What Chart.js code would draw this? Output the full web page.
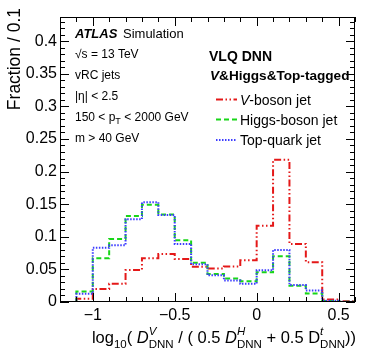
<!DOCTYPE html>
<html>
<head>
<meta charset="utf-8">
<script src="https://cdn.jsdelivr.net/npm/chart.js@4.4.0/dist/chart.umd.min.js"></script>
<style>
  html, body { margin: 0; padding: 0; background: #fff; }
  #c { display: block; }
</style>
</head>
<body>
<canvas id="c" width="374" height="359"></canvas>
<script>
// bin edges of the histogram (log10 ratio), 0.1 wide
const binEdges = [-1.2, -1.1, -1.0, -0.9, -0.8, -0.7, -0.6, -0.5, -0.4, -0.3, -0.2, -0.1, 0.0, 0.1, 0.2, 0.3, 0.4, 0.5, 0.6];
// fraction per bin
const vBosonJet     = [0, 0.005, 0.020, 0.028, 0.049, 0.067, 0.0735, 0.066, 0.054, 0.0515, 0.0545, 0.064, 0.117, 0.218, 0.089, 0.061, 0.004, 0.001];
const higgsBosonJet = [0, 0.016, 0.067, 0.0965, 0.132, 0.149, 0.134, 0.0945, 0.060, 0.043, 0.036, 0.032, 0.0455, 0.070, 0.025, 0.013, 0.0015, 0.0005];
const topQuarkJet   = [0, 0.0125, 0.083, 0.087, 0.127, 0.1528, 0.1334, 0.089, 0.058, 0.041, 0.033, 0.028, 0.0485, 0.0797, 0.026, 0.0178, 0.002, 0.0005];

const xTicks = [-1, -0.5, 0, 0.5];
const xTickLabels = ["\u22121", "\u22120.5", "0", "0.5"];
const yTicks = [0, 0.05, 0.1, 0.15, 0.2, 0.25, 0.3, 0.35, 0.4];
const yTickLabels = ["0", "0.05", "0.1", "0.15", "0.2", "0.25", "0.3", "0.35", "0.4"];
const yMinorStep = 0.01;

const infoLines = ["\u221As = 13 TeV", "vRC jets", "|\u03B7| < 2.5", "PT", "m > 40 GeV"];
const legendNames = ["-boson jet", "Higgs-boson jet", "Top-quark jet"];

const FAM = '"Liberation Sans", Arial, Helvetica, sans-serif';
function fnt(size, weight, style) {
  return `${style || "normal"} ${weight || "normal"} ${size}px ${FAM}`;
}

function toSteps(values) {
  const pts = values.map((v, i) => ({ x: binEdges[i], y: v }));
  pts.push({ x: binEdges[binEdges.length - 1], y: values[values.length - 1] });
  return pts;
}

// draws (or just measures) a row of text pieces; a piece may be a stacked sup/sub pair
function rich(ctx, parts, x, y, draw) {
  parts.forEach((p) => {
    if (p.t !== undefined) {
      ctx.font = p.f;
      if (draw) ctx.fillText(p.t, x, y + (p.dy || 0));
      x += ctx.measureText(p.t).width;
    } else {
      ctx.font = p.supF;
      const w1 = ctx.measureText(p.sup).width;
      if (draw) ctx.fillText(p.sup, x, y + p.supDy);
      ctx.font = p.subF;
      const w2 = ctx.measureText(p.sub).width;
      if (draw) ctx.fillText(p.sub, x, y + p.subDy);
      x += Math.max(w1, w2);
    }
  });
  return x;
}

const rootFrame = {
  id: "rootFrame",
  afterDatasetsDraw(chart) {
    const { ctx, chartArea: a, scales } = chart;
    const x = scales.x, y = scales.y;
    ctx.save();
    ctx.strokeStyle = "#000";
    ctx.lineWidth = 1;
    ctx.beginPath();
    binEdges.forEach((v) => {
      const px = Math.round(x.getPixelForValue(v)) + 0.5;
      const len = xTicks.some((t) => Math.abs(t - v) < 1e-6) ? 9 : 5;
      ctx.moveTo(px, a.bottom); ctx.lineTo(px, a.bottom - len);
      ctx.moveTo(px, a.top); ctx.lineTo(px, a.top + len);
    });
    for (let k = 0; k * yMinorStep <= y.max + 1e-9; k++) {
      const v = k * yMinorStep;
      const py = Math.round(y.getPixelForValue(v)) + 0.5;
      const len = k % 5 === 0 ? 9 : 5;
      ctx.moveTo(a.left, py); ctx.lineTo(a.left + len, py);
      ctx.moveTo(a.right, py); ctx.lineTo(a.right - len, py);
    }
    ctx.stroke();
    ctx.strokeRect(a.left + 0.5, a.top + 0.5, a.right - a.left - 1, a.bottom - a.top - 1);

    ctx.fillStyle = "#000";
    ctx.textBaseline = "alphabetic";
    ctx.textAlign = "left";

    // ATLAS label + selection text
    ctx.font = fnt(13, "bold", "italic");
    ctx.fillText("ATLAS", 75, 38);
    ctx.font = fnt(13);
    ctx.fillText("Simulation", 123, 38);
    const base = [58, 79, 100, 121, 142];
    infoLines.forEach((s, i) => {
      if (s === "PT") {
        rich(ctx, [
          { t: "150 < p", f: fnt(12) },
          { t: "T", f: fnt(9), dy: 3 },
          { t: " < 2000 GeV", f: fnt(12) }
        ], 75, base[i], true);
      } else {
        ctx.font = fnt(12);
        ctx.fillText(s, 75, base[i]);
      }
    });

    // right block
    ctx.font = fnt(14, "bold");
    ctx.fillText("VLQ DNN", 209, 60.5);
    rich(ctx, [
      { t: "V", f: fnt(13.6, "bold", "italic") },
      { t: "&Higgs&Top-tagged", f: fnt(13.6, "bold") }
    ], 210, 80, true);

    // legend
    const ds = chart.data.datasets;
    const rows = [99.5, 119.5, 140];
    ds.forEach((d, i) => {
      ctx.save();
      ctx.strokeStyle = d.borderColor;
      ctx.lineWidth = 2;
      ctx.setLineDash(d.borderDash);
      ctx.beginPath();
      ctx.moveTo(216, rows[i]); ctx.lineTo(237, rows[i]);
      ctx.stroke();
      ctx.restore();
      if (i === 0) {
        rich(ctx, [
          { t: "V", f: fnt(14, "normal", "italic") },
          { t: legendNames[i], f: fnt(14) }
        ], 240, rows[i] + 5, true);
      } else {
        ctx.font = fnt(14);
        ctx.fillText(legendNames[i], 240, rows[i] + 5);
      }
    });

    // x axis title, right aligned to the frame end
    const M = fnt(16.5), MI = fnt(16.5, "normal", "italic"), S = fnt(11.5), SI = fnt(11.5, "normal", "italic");
    const parts = [
      { t: "log", f: M },
      { t: "10", f: S, dy: 5 },
      { t: "( ", f: M },
      { t: "D", f: MI },
      { sup: "V", supF: SI, supDy: -8, sub: "DNN", subF: S, subDy: 5 },
      { t: " / ( 0.5 ", f: M },
      { t: "D", f: MI },
      { sup: "H", supF: SI, supDy: -8, sub: "DNN", subF: S, subDy: 5 },
      { t: " + 0.5 ", f: M },
      { t: "D", f: M },
      { sup: "t", supF: SI, supDy: -8, sub: "DNN", subF: S, subDy: 5 },
      { t: "))", f: M }
    ];
    const w = rich(ctx, parts, 0, 0, false);
    rich(ctx, parts, 356 - w, 343, true);

    // y axis title, rotated, right aligned to the top
    ctx.save();
    ctx.translate(20, 8);
    ctx.rotate(-Math.PI / 2);
    ctx.font = fnt(17.5);
    ctx.textAlign = "right";
    ctx.fillText("Fraction / 0.1", 0, 0);
    ctx.restore();

    ctx.restore();
  }
};

const tickFont = { family: FAM, size: 16 };

new Chart(document.getElementById("c").getContext("2d"), {
  type: "line",
  data: {
    datasets: [
      { label: "V-boson jet", data: toSteps(vBosonJet), borderColor: "rgb(228,24,24)", borderDash: [7, 2.5, 1.5, 2.5, 1.5, 2.5], order: 3 },
      { label: "Higgs-boson jet", data: toSteps(higgsBosonJet), borderColor: "rgb(24,214,24)", borderDash: [5, 3], order: 2 },
      { label: "Top-quark jet", data: toSteps(topQuarkJet), borderColor: "rgb(60,60,255)", borderDash: [1.5, 1.5], order: 1 }
    ].map((d) => Object.assign(d, { stepped: "before", pointRadius: 0, borderWidth: 2, fill: false, tension: 0 }))
  },
  options: {
    responsive: false,
    animation: false,
    devicePixelRatio: 1,
    layout: { padding: { top: 17, right: 19, left: 0, bottom: 0 } },
    plugins: { legend: { display: false }, tooltip: { enabled: false }, title: { display: false } },
    scales: {
      x: {
        type: "linear", min: -1.2, max: 0.6,
        grid: { display: false, drawTicks: false },
        border: { display: false },
        afterBuildTicks: (s) => { s.ticks = xTicks.map((v) => ({ value: v })); },
        afterFit: (s) => { s.height = 57; },
        ticks: { font: tickFont, color: "#000", padding: 4, maxRotation: 0, autoSkip: false,
          callback: (v, i) => xTickLabels[i] }
      },
      y: {
        type: "linear", min: 0, max: 0.437,
        grid: { display: false, drawTicks: false },
        border: { display: false },
        afterBuildTicks: (s) => { s.ticks = yTicks.map((v) => ({ value: v })); },
        afterFit: (s) => { s.width = 60; },
        ticks: { font: tickFont, color: "#000", padding: 3, autoSkip: false,
          callback: (v, i) => yTickLabels[i] }
      }
    }
  },
  plugins: [rootFrame]
});
</script>
</body>
</html>
